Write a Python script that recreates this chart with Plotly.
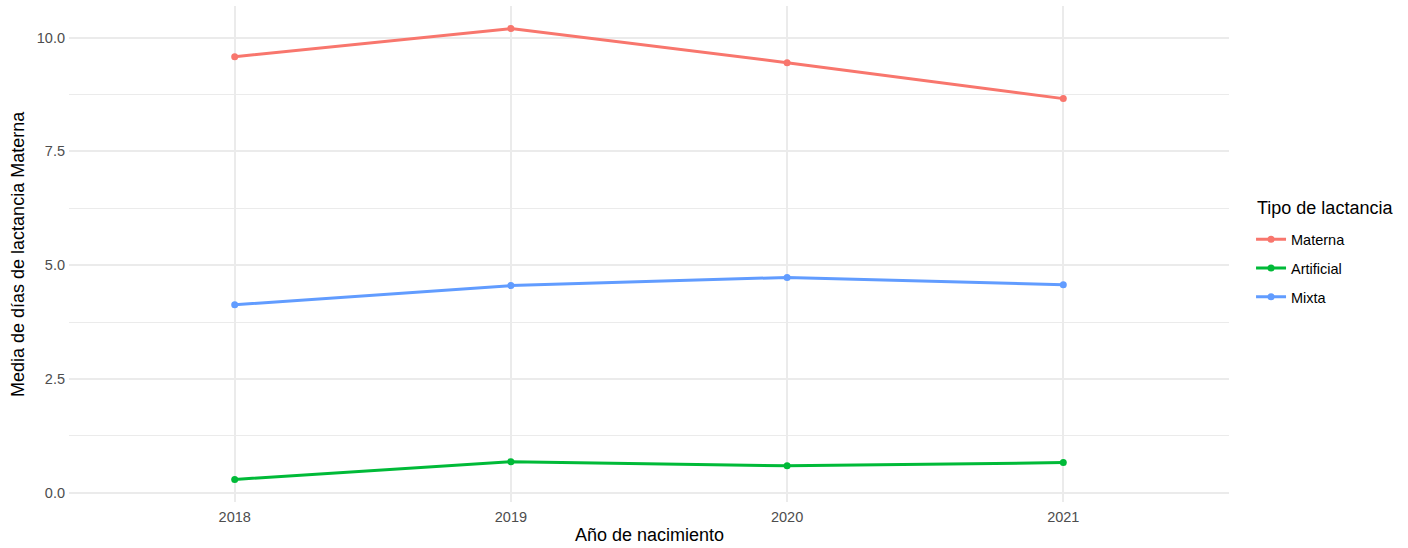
import plotly.graph_objects as go

years = [2018, 2019, 2020, 2021]
materna = [9.58, 10.20, 9.45, 8.66]
artificial = [0.29, 0.68, 0.59, 0.66]
mixta = [4.13, 4.55, 4.73, 4.57]

series_names = ["Materna", "Artificial", "Mixta"]
series_values = [materna, artificial, mixta]
series_colors = ["#F8766D", "#00BA38", "#619CFF"]

y_ticks = [0.0, 2.5, 5.0, 7.5, 10.0]
y_tick_labels = ["0.0", "2.5", "5.0", "7.5", "10.0"]
x_tick_labels = ["2018", "2019", "2020", "2021"]

FONT = "Liberation Sans, Arial, sans-serif"

fig = go.Figure()
for name, vals, col in zip(series_names, series_values, series_colors):
    fig.add_trace(go.Scatter(
        x=years, y=vals, name=name, mode="lines+markers",
        line=dict(color=col, width=3),
        marker=dict(color=col, size=7),
        legendgroup=name,
    ))

W, H = 1408, 548
ml, mr, mt, mb = 69.4, 1408 - 1228.6, 6, 46

ymin = min(min(v) for v in series_values)
ymax = max(max(v) for v in series_values)
pad = (ymax - ymin) * 0.05

fig.update_layout(
    width=W, height=H,
    margin=dict(l=ml, r=mr, t=mt, b=mb, autoexpand=False),
    paper_bgcolor="white", plot_bgcolor="white",
    font=dict(family=FONT, size=14.5, color="#4D4D4D"),
    showlegend=True,
    legend=dict(
        font=dict(size=14.5, color="black", family=FONT),
        x=1.019, xanchor="left", y=0.562, yanchor="top",
        bgcolor="rgba(0,0,0,0)", traceorder="grouped", tracegroupgap=7,
        itemwidth=30,
    ),
    xaxis=dict(
        range=[2017.4, 2021.6], tickvals=years, ticktext=x_tick_labels,
        showgrid=True, gridcolor="#EBEBEB", gridwidth=1.6, zeroline=False,
        showline=False, ticks="", ticklabelstandoff=4,
        tickfont=dict(size=14.5, color="#4D4D4D", family=FONT),
        automargin=False,
    ),
    yaxis=dict(
        range=[ymin - pad, ymax + pad], tickvals=y_ticks, ticktext=y_tick_labels,
        showgrid=True, gridcolor="#EBEBEB", gridwidth=1.6, zeroline=False,
        showline=False, ticks="", ticklabelstandoff=3,
        tickfont=dict(size=14.5, color="#4D4D4D", family=FONT),
        minor=dict(tick0=1.25, dtick=2.5, showgrid=True, gridcolor="#EBEBEB", gridwidth=0.8),
        automargin=False,
    ),
    annotations=[
        dict(text="Año de nacimiento", x=0.5, y=-0.0, xref="paper", yref="paper",
             xanchor="center", yanchor="top", yshift=-21, showarrow=False,
             font=dict(size=18, color="black", family=FONT)),
        dict(text="Media de días de lactancia Materna", x=0, y=0.5, xref="paper", yref="paper",
             xanchor="center", yanchor="middle", xshift=-51, textangle=-90, showarrow=False,
             font=dict(size=18, color="black", family=FONT)),
        dict(text="Tipo de lactancia", x=1.0228, y=0.593, xref="paper", yref="paper",
             xanchor="left", yanchor="middle", showarrow=False,
             font=dict(size=18, color="black", family=FONT)),
    ],
)

fig.write_html("out.html", config={"displayModeBar": False},
               post_script="document.body.style.margin='0px';document.body.style.overflow='hidden';")
